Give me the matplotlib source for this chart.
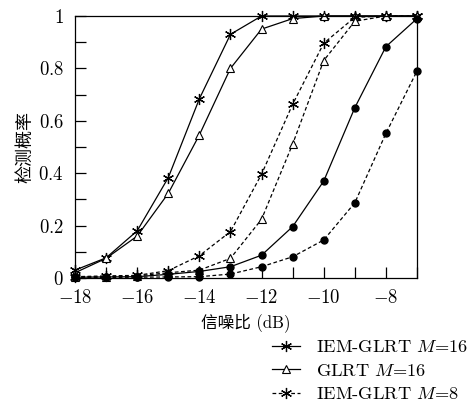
import numpy as np
import matplotlib
matplotlib.use("Agg")
import matplotlib.pyplot as plt

plt.rcParams['font.family'] = ['cmr10', 'Noto Sans CJK SC', 'DejaVu Sans']
plt.rcParams['mathtext.fontset'] = 'cm'
plt.rcParams['axes.unicode_minus'] = True
plt.rcParams['font.size'] = 11

# 信噪比 (dB)
snr = [-18, -17, -16, -15, -14, -13, -12, -11, -10, -9, -8, -7]

# 检测概率
iem_m16 = [0.03, 0.077, 0.18, 0.383, 0.684, 0.93, 1.0, 1.0, 1.0, 1.0, 1.0, 1.0]
glrt_m16 = [0.02, 0.075, 0.16, 0.323, 0.546, 0.80, 0.95, 0.99, 1.0, 1.0, 1.0, 1.0]
iem_m8 = [0.005, 0.008, 0.01, 0.028, 0.085, 0.177, 0.396, 0.663, 0.896, 0.995, 1.0, 1.0]
glrt_m8 = [0.003, 0.005, 0.008, 0.02, 0.03, 0.075, 0.224, 0.511, 0.83, 0.98, 1.0, 1.0]
iem_m4 = [0.003, 0.004, 0.005, 0.014, 0.025, 0.043, 0.087, 0.196, 0.37, 0.65, 0.883, 0.99]
glrt_m4 = [0.002, 0.002, 0.003, 0.004, 0.005, 0.015, 0.043, 0.081, 0.145, 0.287, 0.552, 0.79]

labels = ["IEM-GLRT $M$=16", "GLRT $M$=16", "IEM-GLRT $M$=8",
          "GLRT $M$=8", "IEM-GLRT $M$=4", "GLRT $M$=4"]

fig = plt.figure(figsize=(4.72, 4.0), dpi=100)
ax = fig.add_axes([75/472, 1-278/400, (417-75)/472, (278-16)/400])

star = (6, 2, 0)
kw = dict(color='k', lw=0.9, clip_on=False)
ax.plot(snr, iem_m16, marker=star, ms=8, mew=0.9, ls='-', label=labels[0], **kw)
ax.plot(snr, glrt_m16, marker='^', ms=6, mfc='white', mew=0.8, ls='-', label=labels[1], **kw)
ax.plot(snr, iem_m8, marker=star, ms=8, mew=0.9, ls=(0, (3, 2)), label=labels[2], **kw)
ax.plot(snr, glrt_m8, marker='^', ms=6, mfc='white', mew=0.8, ls=(0, (3, 2)), label=labels[3], **kw)
ax.plot(snr, iem_m4, marker='o', ms=5, ls='-', label=labels[4], **kw)
ax.plot(snr, glrt_m4, marker='o', ms=5, ls=(0, (3, 2)), label=labels[5], **kw)

ax.set_xlim(-18, -7)
ax.set_ylim(0, 1)
ax.set_xticks(np.arange(-18, -7, 2))
ax.set_xticklabels(["$-%d$" % (-v) for v in range(-18, -7, 2)])
ax.set_xticks(np.arange(-17, -6, 2), minor=True)
ax.set_yticks([0, 0.2, 0.4, 0.6, 0.8, 1.0])
ax.set_yticklabels(["$0$", "$0.2$", "$0.4$", "$0.6$", "$0.8$", "$1$"])
ax.set_yticks([0.1, 0.3, 0.5, 0.7, 0.9], minor=True)
ax.tick_params(which='both', direction='in', length=8, width=0.9, labelsize=13.5,
               pad=8, top=False, right=False)
for s in ax.spines.values():
    s.set_linewidth(0.9)

ax.set_xlabel("信噪比 (dB)", fontsize=12, labelpad=4)
ax.set_ylabel("检测概率", family=['Noto Sans CJK SC'], fontsize=13, labelpad=3)

fig.legend(loc='upper left', bbox_to_anchor=(272/472, 1-339/400), frameon=False,
           handlelength=1.5, handletextpad=0.9, labelspacing=0.42, borderpad=0,
           borderaxespad=0, fontsize=13.2)

fig.savefig("out.png", dpi=100)
